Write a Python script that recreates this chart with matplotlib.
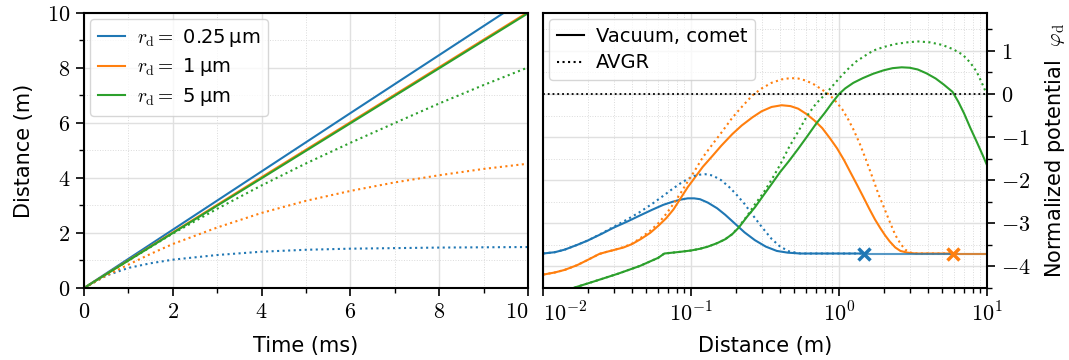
import numpy as np
import matplotlib
matplotlib.use("Agg")
import matplotlib.pyplot as plt
from matplotlib.ticker import FuncFormatter, MultipleLocator, LogLocator

plt.rcParams['font.family'] = ['DejaVu Sans']
plt.rcParams['mathtext.fontset'] = 'cm'

C_BLUE, C_ORANGE, C_GREEN = '#1f77b4', '#ff7f0e', '#2ca02c'

# --- left panel: distance vs time ---
labels = [r'$r_\mathrm{d} =$ 0.25' + '\u2009μm',
          r'$r_\mathrm{d} =$ 1' + '\u2009μm',
          r'$r_\mathrm{d} =$ 5' + '\u2009μm']

t_vac_blue = [0, 2, 4, 6, 8, 9.45]
d_vac_blue = [0, 2.12, 4.24, 6.36, 8.47, 10.0]
t_vac_orange = [0, 2, 4, 6, 8, 10]
d_vac_orange = [0, 2.02, 4.03, 6.03, 8.03, 10.03]
t_vac_green = [0, 2, 4, 6, 8, 10]
d_vac_green = [0, 2.00, 3.99, 5.99, 7.99, 9.99]

t_avgr = [0, 0.5, 1, 1.5, 2, 3, 4, 5, 6, 7, 8, 9, 10]
d_avgr_blue = [0, 0.45, 0.73, 0.90, 1.03, 1.20, 1.32, 1.39, 1.43, 1.45, 1.47, 1.48, 1.49]
d_avgr_orange = [0, 0.45, 0.85, 1.24, 1.60, 2.20, 2.73, 3.17, 3.53, 3.84, 4.10, 4.33, 4.52]
d_avgr_green = [0, 0.50, 1.00, 1.49, 1.98, 2.88, 3.73, 4.53, 5.28, 6.00, 6.71, 7.38, 8.02]

# --- right panel: normalized potential vs distance ---
x_vac_blue = [0.010, 0.012, 0.014, 0.017, 0.020, 0.025, 0.030, 0.037, 0.045, 0.055,
              0.065, 0.075, 0.085, 0.095, 0.105, 0.115, 0.13, 0.15, 0.17, 0.20,
              0.23, 0.27, 0.32, 0.38, 0.45, 0.55, 0.8, 1.47]
p_vac_blue = [-3.70, -3.67, -3.61, -3.50, -3.40, -3.24, -3.10, -2.96, -2.82, -2.68,
              -2.57, -2.50, -2.45, -2.42, -2.42, -2.44, -2.52, -2.65, -2.80, -3.02,
              -3.21, -3.39, -3.54, -3.64, -3.68, -3.70, -3.70, -3.70]
x_avgr_blue = [0.010, 0.012, 0.014, 0.017, 0.020, 0.025, 0.030, 0.037, 0.045, 0.055,
               0.065, 0.075, 0.085, 0.095, 0.105, 0.115, 0.125, 0.14, 0.16, 0.18,
               0.20, 0.23, 0.26, 0.30, 0.35, 0.40, 0.46, 0.55, 0.8, 1.47]
p_avgr_blue = [-3.70, -3.67, -3.61, -3.50, -3.40, -3.23, -3.08, -2.91, -2.74, -2.54,
               -2.36, -2.20, -2.07, -1.97, -1.90, -1.87, -1.86, -1.89, -2.00, -2.15,
               -2.31, -2.55, -2.80, -3.08, -3.36, -3.54, -3.65, -3.70, -3.70, -3.70]

x_vac_orange = [0.010, 0.012, 0.014, 0.017, 0.020, 0.024, 0.027, 0.030, 0.035, 0.040,
                0.046, 0.053, 0.060, 0.068, 0.076, 0.085, 0.095, 0.105, 0.12, 0.14,
                0.16, 0.19, 0.22, 0.26, 0.30, 0.35, 0.41, 0.47, 0.53, 0.60,
                0.68, 0.77, 0.87, 0.97, 1.08, 1.2, 1.33, 1.46, 1.6, 1.75,
                1.9, 2.05, 2.2, 2.4, 2.6, 2.9, 3.3, 5.85]
p_vac_orange = [-4.19, -4.14, -4.08, -3.97, -3.85, -3.71, -3.66, -3.62, -3.56, -3.48,
                -3.36, -3.22, -3.06, -2.88, -2.68, -2.42, -2.16, -1.96, -1.69, -1.43,
                -1.20, -0.93, -0.73, -0.54, -0.40, -0.30, -0.26, -0.28, -0.34, -0.46,
                -0.61, -0.79, -1.03, -1.26, -1.53, -1.83, -2.12, -2.39, -2.66, -2.91,
                -3.11, -3.28, -3.42, -3.56, -3.64, -3.68, -3.70, -3.70]
x_avgr_orange = [0.010, 0.012, 0.014, 0.017, 0.020, 0.024, 0.027, 0.030, 0.035, 0.040,
                 0.046, 0.053, 0.060, 0.068, 0.076, 0.085, 0.095, 0.105, 0.12, 0.14,
                 0.16, 0.19, 0.22, 0.26, 0.30, 0.35, 0.41, 0.47, 0.53, 0.60,
                 0.68, 0.77, 0.87, 0.95, 1.05, 1.15, 1.25, 1.38, 1.52, 1.71,
                 1.85, 2.0, 2.2, 2.4, 2.6, 2.8, 3.05, 3.4, 5.85]
p_avgr_orange = [-4.19, -4.14, -4.08, -3.97, -3.85, -3.71, -3.66, -3.62, -3.55, -3.47,
                 -3.33, -3.17, -3.00, -2.78, -2.55, -2.30, -2.03, -1.80, -1.47, -1.16,
                 -0.90, -0.55, -0.30, -0.03, 0.13, 0.26, 0.34, 0.37, 0.36, 0.31,
                 0.22, 0.10, -0.03, -0.17, -0.35, -0.58, -0.82, -1.15, -1.52, -2.00,
                 -2.33, -2.61, -2.96, -3.27, -3.47, -3.61, -3.68, -3.70, -3.70]

x_vac_green = [0.010, 0.015, 0.022, 0.032, 0.045, 0.060, 0.066, 0.075, 0.085, 0.100,
               0.115, 0.13, 0.15, 0.17, 0.19, 0.21, 0.24, 0.27, 0.31, 0.35,
               0.40, 0.46, 0.53, 0.61, 0.70, 0.80, 0.90, 1.0, 1.1, 1.25,
               1.45, 1.7, 2.0, 2.3, 2.65, 3.0, 3.4, 3.9, 4.5, 5.1,
               5.85, 6.4, 7.0, 7.7, 8.5, 9.3, 10.0]
p_vac_green = [-4.72, -4.53, -4.35, -4.17, -3.99, -3.80, -3.70, -3.68, -3.66, -3.63,
               -3.59, -3.54, -3.46, -3.37, -3.25, -3.10, -2.84, -2.63, -2.34, -2.09,
               -1.81, -1.55, -1.27, -0.98, -0.69, -0.44, -0.20, 0.0, 0.13, 0.26,
               0.37, 0.47, 0.55, 0.60, 0.62, 0.61, 0.57, 0.48, 0.36, 0.22,
               0.05, -0.18, -0.45, -0.78, -1.10, -1.40, -1.65]
x_avgr_green = [0.010, 0.015, 0.022, 0.032, 0.045, 0.060, 0.066, 0.075, 0.085, 0.100,
                0.115, 0.13, 0.15, 0.17, 0.19, 0.21, 0.24, 0.27, 0.31, 0.35,
                0.40, 0.46, 0.53, 0.61, 0.70, 0.80, 0.90, 1.0, 1.15, 1.30,
                1.5, 1.71, 2.0, 2.4, 2.9, 3.43, 4.1, 4.98, 5.9, 6.87,
                7.7, 8.51, 9.2, 10.0]
p_avgr_green = [-4.72, -4.53, -4.35, -4.17, -3.99, -3.80, -3.70, -3.68, -3.66, -3.63,
                -3.59, -3.54, -3.46, -3.37, -3.25, -3.08, -2.82, -2.56, -2.28, -1.99,
                -1.64, -1.23, -0.87, -0.50, -0.22, -0.02, 0.18, 0.36, 0.58, 0.75,
                0.89, 1.01, 1.09, 1.16, 1.20, 1.22, 1.20, 1.14, 1.04, 0.91,
                0.73, 0.52, 0.27, -0.02]

end_x = [1.47, 5.85]      # end markers (blue, orange)
end_p = [-3.70, -3.70]
tail_x = [10.0, 10.0]

fig = plt.figure(figsize=(10.69, 3.6), dpi=100)
ax1 = fig.add_axes([0.0786, 0.2, 0.4153, 0.7639])
ax2 = fig.add_axes([0.508, 0.2, 0.4153, 0.7639])

lw = 1.5
ax1.plot(t_vac_blue, d_vac_blue, color=C_BLUE, lw=lw, label=labels[0])
ax1.plot(t_vac_orange, d_vac_orange, color=C_ORANGE, lw=lw, label=labels[1])
ax1.plot(t_vac_green, d_vac_green, color=C_GREEN, lw=lw, label=labels[2])
ax1.plot(t_avgr, d_avgr_blue, color=C_BLUE, lw=lw, ls=':')
ax1.plot(t_avgr, d_avgr_orange, color=C_ORANGE, lw=lw, ls=':')
ax1.plot(t_avgr, d_avgr_green, color=C_GREEN, lw=lw, ls=':')

ax1.set_xlim(0, 10)
ax1.set_ylim(0, 10)
ax1.xaxis.set_major_locator(MultipleLocator(2))
ax1.xaxis.set_minor_locator(MultipleLocator(1))
ax1.yaxis.set_major_locator(MultipleLocator(2))
ax1.yaxis.set_minor_locator(MultipleLocator(1))
num_fmt = FuncFormatter(lambda v, _: f"${v:g}$")
ax1.xaxis.set_major_formatter(num_fmt)
ax1.yaxis.set_major_formatter(num_fmt)
ax1.set_xlabel('Time (ms)', fontsize=15, labelpad=10)
ax1.set_ylabel('Distance (m)', fontsize=15, labelpad=9)
ax1.legend(loc='upper left', fontsize=14, handlelength=1.4, handletextpad=0.6,
           borderaxespad=0.3, labelspacing=0.4, borderpad=0.4)

# right panel
for x, p, c in [(x_vac_blue, p_vac_blue, C_BLUE), (x_vac_orange, p_vac_orange, C_ORANGE)]:
    ax2.plot(x, p, color=c, lw=lw)
for x, p, c in [(x_avgr_blue, p_avgr_blue, C_BLUE), (x_avgr_orange, p_avgr_orange, C_ORANGE)]:
    ax2.plot(x, p, color=c, lw=lw, ls=':')
for i, c in enumerate([C_BLUE, C_ORANGE]):
    ax2.plot([end_x[i], tail_x[i]], [end_p[i], end_p[i]], color=c, lw=lw, alpha=0.75)
ax2.plot(x_vac_green, p_vac_green, color=C_GREEN, lw=lw)
ax2.plot(x_avgr_green, p_avgr_green, color=C_GREEN, lw=lw, ls=':')
for i, c in enumerate([C_BLUE, C_ORANGE]):
    ax2.plot(end_x[i], end_p[i], marker='x', color=c, ms=8, mew=2.5, zorder=5)
ax2.axhline(0, color='k', lw=1.3, ls=':')

ax2.plot([], [], color='k', lw=lw, label='Vacuum, comet')
ax2.plot([], [], color='k', lw=lw, ls=':', label='AVGR')
ax2.legend(loc='upper left', fontsize=14, handlelength=1.4, handletextpad=0.6,
           borderaxespad=0.3, labelspacing=0.4, borderpad=0.4)

ax2.set_xscale('log')
ax2.set_xlim(1e-2, 1e1)
ax2.set_ylim(-4.5, 1.88)
ax2.xaxis.set_major_locator(LogLocator(base=10))
ax2.xaxis.set_minor_locator(LogLocator(base=10, subs=np.arange(2, 10)))
ax2.xaxis.set_major_formatter(FuncFormatter(lambda v, _: f"$10^{{{int(round(np.log10(v)))}}}$"))
ax2.xaxis.set_minor_formatter(FuncFormatter(lambda v, _: ""))
ax2.yaxis.set_major_locator(MultipleLocator(1))
ax2.yaxis.set_minor_locator(MultipleLocator(0.5))
ax2.yaxis.set_major_formatter(num_fmt)
ax2.yaxis.tick_right()
ax2.yaxis.set_label_position('right')
ax2.set_xlabel('Distance (m)', fontsize=15, labelpad=7)
ax2.set_ylabel('Normalized potential  ' + r'$\varphi_\mathrm{d}$', fontsize=15, labelpad=9)

for ax in (ax1, ax2):
    ax.grid(which='major', color='0.88', lw=1.0)
    ax.grid(which='minor', color='0.86', lw=0.7, ls=':')
    ax.set_axisbelow(True)
    for s in ax.spines.values():
        s.set_linewidth(1.5)
    ax.tick_params(which='major', labelsize=16, length=6, width=1.2, pad=4)
    ax.tick_params(which='minor', length=3.5, width=1.0)

# keep the tick labels at the shared edge apart
fig.canvas.draw()
for tick in ax1.xaxis.get_major_ticks():
    if abs(tick.get_loc() - 10) < 1e-9:
        tick.label1.set_horizontalalignment('right')
for tick in ax2.xaxis.get_major_ticks():
    if abs(tick.get_loc() - 1e-2) < 1e-12:
        tick.label1.set_horizontalalignment('left')

fig.savefig('out.png', dpi=100)
